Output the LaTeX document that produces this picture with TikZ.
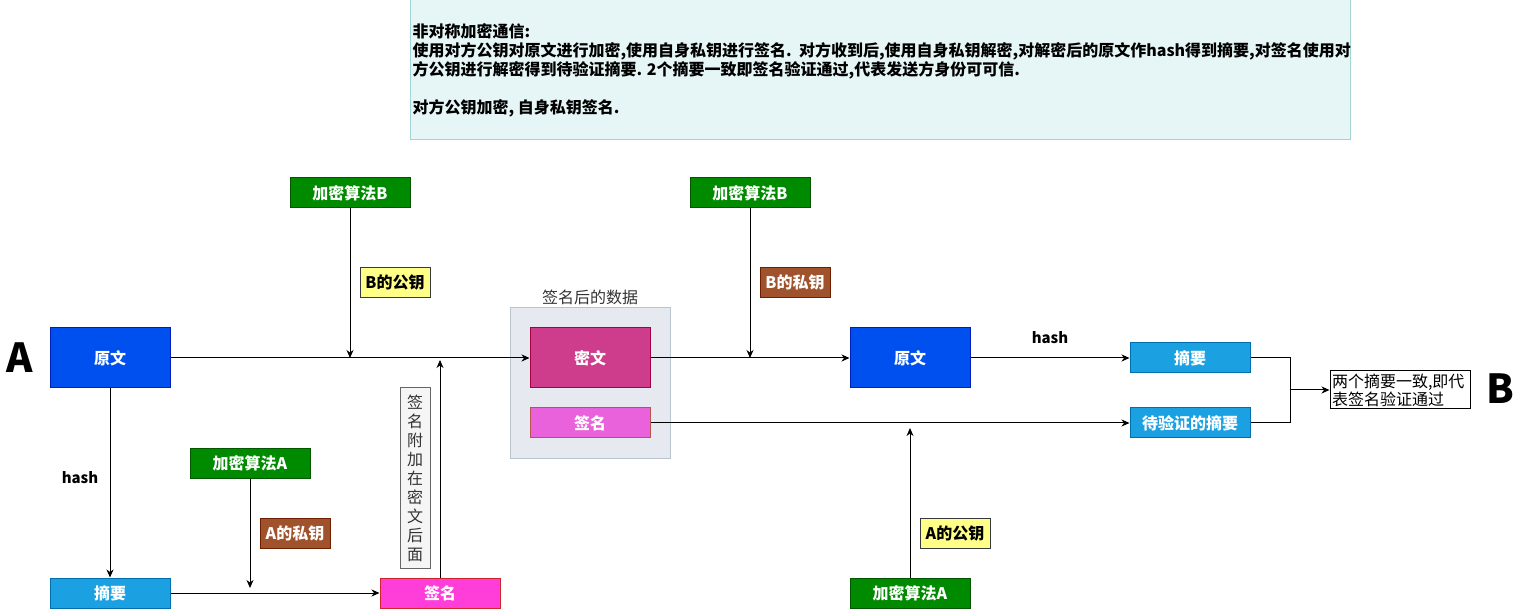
\documentclass[tikz,border=0pt]{standalone}
\usepackage{fontspec}
\setmainfont{Noto Sans CJK SC}
\usepackage{xcolor}
\usepackage{tikz}
\usetikzlibrary{arrows.meta, positioning}

\definecolor{notefill}{HTML}{E6F6F6}
\definecolor{noteline}{HTML}{A3D3D3}
\definecolor{srcblue}{HTML}{0050EF}
\definecolor{srcline}{HTML}{001DBC}
\definecolor{digblue}{HTML}{1BA1E2}
\definecolor{digline}{HTML}{006EAF}
\definecolor{algogreen}{HTML}{008A00}
\definecolor{algoline}{HTML}{005700}
\definecolor{privfill}{HTML}{A0522D}
\definecolor{privline}{HTML}{6D1F00}
\definecolor{pubfill}{HTML}{FFFF88}
\definecolor{publine}{HTML}{36393D}
\definecolor{signfill}{HTML}{FF3DD9}
\definecolor{signline}{HTML}{D0252C}
\definecolor{cipherfill}{HTML}{CE3D8B}
\definecolor{cipherline}{HTML}{A50040}
\definecolor{softsign}{HTML}{EA62DB}
\definecolor{softline}{HTML}{B85450}
\definecolor{groupfill}{HTML}{E6EAF0}
\definecolor{groupline}{HTML}{B9C4CE}
\definecolor{vfill}{HTML}{F5F5F5}
\definecolor{vline}{HTML}{666666}
\definecolor{darkgray}{HTML}{333333}

\begin{document}
\begin{tikzpicture}[
    x=1pt, y=-1pt, line width=1pt,
    >={Stealth[length=8pt, width=7pt, inset=2.5pt]},
    every node/.style={font=\fontsize{16}{19}\selectfont},
    box/.style={draw, rectangle, minimum width=120pt, minimum height=30pt,
        inner sep=0pt, text=white, font=\fontsize{16}{19}\selectfont\bfseries},
    keybox/.style={draw, rectangle, minimum width=70pt, minimum height=30pt,
        inner sep=0pt, font=\fontsize{16}{19}\selectfont\bfseries},
    bold/.style={font=\fontsize{15}{18}\selectfont\bfseries},
    party/.style={font=\fontsize{40}{40}\selectfont\bfseries}
]
\useasboundingbox (0,0) rectangle (1521,609);

% Note on top
\node[draw=noteline, fill=notefill, minimum width=940pt, minimum height=140pt] (note) at (880,70) {};
\node[anchor=base west, inner sep=0pt, font=\fontsize{16}{19}\selectfont\bfseries] (note1) at (412,38) {非对称加密通信:};
\node[anchor=base west, inner sep=0pt, font=\fontsize{16}{19}\selectfont\bfseries] (note2) at (412,57) {使用对方公钥对原文进行加密,使用自身私钥进行签名.\ \ 对方收到后,使用自身私钥解密,对解密后的原文作hash得到摘要,对签名使用对};
\node[anchor=base west, inner sep=0pt, font=\fontsize{16}{19}\selectfont\bfseries] (note3) at (412,76) {方公钥进行解密得到待验证摘要. 2个摘要一致即签名验证通过,代表发送方身份可可信.};
\node[anchor=base west, inner sep=0pt, font=\fontsize{16}{19}\selectfont\bfseries] (note4) at (412,114) {对方公钥加密, 自身私钥签名.};

% Sender A
\node[party] (lblA) at (20,358) {A};
\node[box, fill=srcblue, draw=srcline, minimum height=60pt] (srcA) at (110,358) {原文};
\node[box, fill=digblue, draw=digline] (digA) at (110,593) {摘要};
\node[bold] (hashA) at (80,478) {hash};
\node[box, fill=algogreen, draw=algoline] (algA) at (250,463) {加密算法A};
\node[keybox, fill=privfill, draw=privline, text=white] (privA) at (295,533) {A的私钥};
\node[box, fill=signfill, draw=signline] (sigA) at (440,593) {签名};
\node[draw=vline, fill=vfill, text=darkgray, minimum width=30pt, minimum height=180pt,
    inner sep=0pt, align=center] (attach) at (415,478) {签\\名\\附\\加\\在\\密\\文\\后\\面};
\node[box, fill=algogreen, draw=algoline] (algB1) at (350,193) {加密算法B};
\node[keybox, fill=pubfill, draw=publine, text=black] (pubB) at (395,283) {B的公钥};

% Signed data
\node[draw=groupline, fill=groupfill, minimum width=160pt, minimum height=150pt] (group) at (590,383) {};
\node[text=darkgray] (grouplbl) at (590,297) {签名后的数据};
\node[box, fill=cipherfill, draw=cipherline, minimum height=60pt] (cipher) at (590,358) {密文};
\node[box, fill=softsign, draw=softline] (sigB) at (590,423) {签名};

% Receiver B
\node[box, fill=algogreen, draw=algoline] (algB2) at (750,193) {加密算法B};
\node[keybox, fill=privfill, draw=privline, text=white] (privB) at (795,283) {B的私钥};
\node[box, fill=srcblue, draw=srcline, minimum height=60pt] (srcB) at (910,358) {原文};
\node[bold] (hashB) at (1050,338) {hash};
\node[box, fill=digblue, draw=digline] (digB) at (1190,358) {摘要};
\node[box, fill=digblue, draw=digline] (chkB) at (1190,423) {待验证的摘要};
\node[box, fill=algogreen, draw=algoline] (algA2) at (910,593) {加密算法A};
\node[keybox, fill=pubfill, draw=publine, text=black] (pubA) at (955,533) {A的公钥};
\node[draw, fill=white, minimum width=140pt, minimum height=38pt, text width=136pt,
    inner sep=2pt, align=left, font=\fontsize{16}{18}\selectfont] (result) at (1400,390) {两个摘要一致,即代\\表签名验证通过};
\node[party] (lblB) at (1500,389) {B};

% Join points
\coordinate (joinB1) at (350,358);
\coordinate (joinA) at (440,360);
\coordinate (endA) at (250,588);
\coordinate (joinB2) at (750,358);
\coordinate (joinA2) at (910,428);
\coordinate (merge) at (1290,390);

% Connectors
\draw[->] (srcA) -- (cipher);
\draw[->] (srcA) -- (digA);
\draw[->] (digA) -- (sigA);
\draw[->] (algA) -- (endA);
\draw[->] (sigA) -- (joinA);
\draw[->] (algB1) -- (joinB1);
\draw[->] (cipher) -- (srcB);
\draw[->] (algB2) -- (joinB2);
\draw[->] (srcB) -- (digB);
\draw[->] (sigB) -- (chkB);
\draw[->] (algA2) -- (joinA2);
\draw (digB.east) -| (merge);
\draw (chkB.east) -| (merge);
\draw[->] (merge) -- (result);
\end{tikzpicture}
\end{document}
